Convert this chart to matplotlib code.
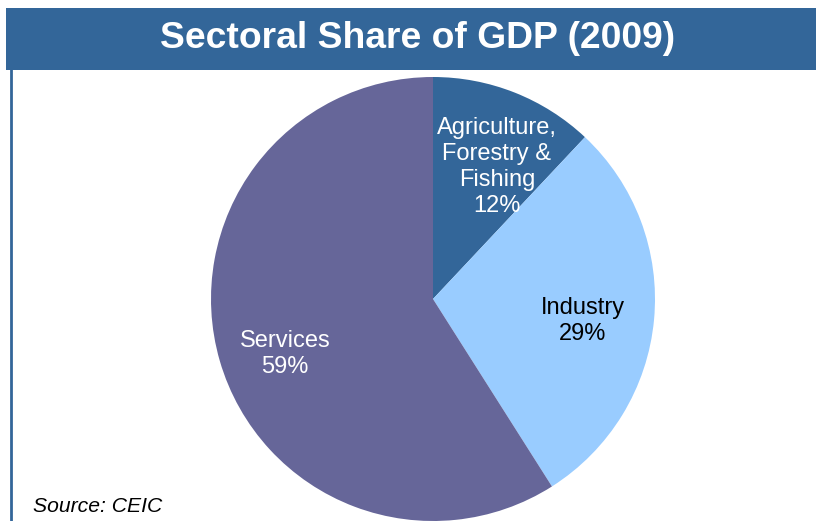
import matplotlib
matplotlib.use("Agg")
import matplotlib.pyplot as plt
from matplotlib.patches import Rectangle

sectors = ["Agriculture,\nForestry &\nFishing", "Industry", "Services"]
shares = [12, 29, 59]
colors = ["#336699", "#99CCFF", "#666699"]
label_colors = ["white", "black", "white"]

W, H = 816, 521
fig = plt.figure(figsize=(W / 100, H / 100), dpi=100)
ax = fig.add_axes([0, 0, 1, 1])

cx, cy, r = 433, H - 299, 222
ax.pie(shares, startangle=90, counterclock=False, colors=colors,
       center=(cx, cy), radius=r, wedgeprops=dict(linewidth=0))
ax.set_xlim(0, W)
ax.set_ylim(0, H)
ax.set_aspect("equal")
ax.axis("off")

font = ["Liberation Sans", "DejaVu Sans"]

# Title banner and left rule
ax.add_patch(Rectangle((6, H - 70), W - 6, 62, facecolor="#336699",
                       edgecolor="none", zorder=5))
ax.plot([11, 11], [0, H - 70], color="#336699", lw=2, zorder=5)
ax.text(418, H - 39, "Sectoral Share of GDP (2009)", color="white",
        fontsize=26.8, fontweight="bold", family=font,
        ha="center", va="center", zorder=6)

# Slice labels
label_pos = [(497, 167), (583, 321), (285, 354)]
for name, val, (x, y), c in zip(sectors, shares, label_pos, label_colors):
    ax.text(x, H - y, f"{name}\n{val}%", color=c, fontsize=17,
            family=font, ha="center", va="center", linespacing=1.22,
            zorder=4)

ax.text(33, H - 507, "Source: CEIC", fontsize=15.2, style="italic",
        family=font, ha="left", va="center", zorder=6)

fig.savefig("out.png", dpi=100)
